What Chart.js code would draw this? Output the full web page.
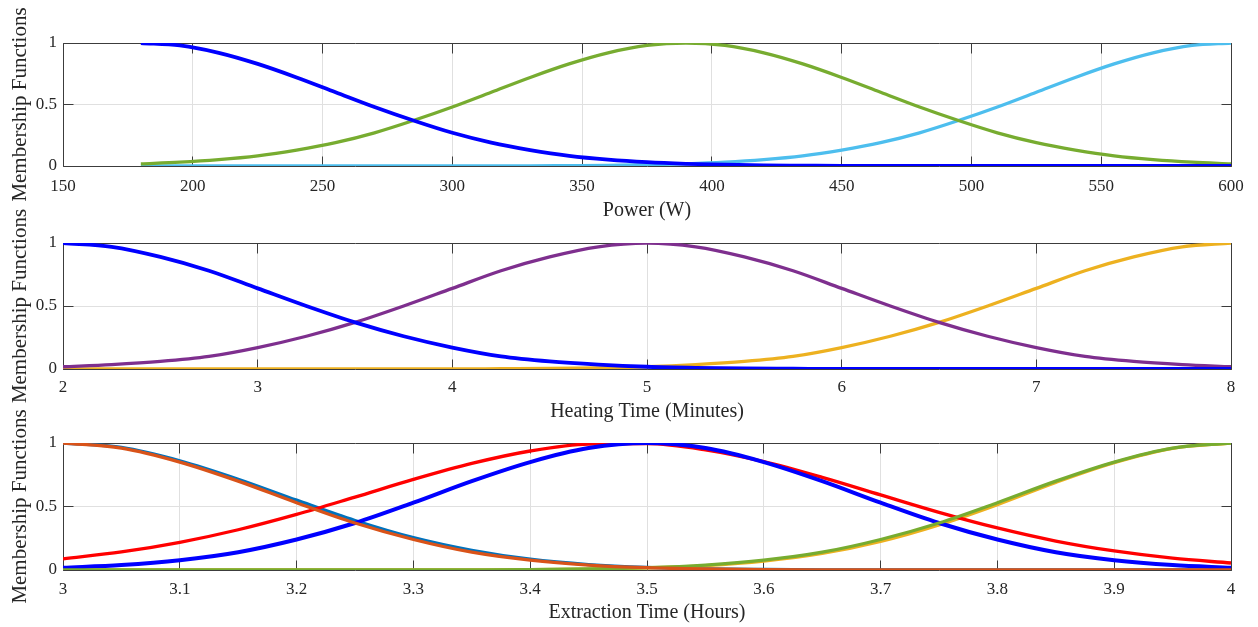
<!DOCTYPE html>
<html><head><meta charset="utf-8">
<script src="https://cdn.jsdelivr.net/npm/chart.js@4.4.1/dist/chart.umd.min.js"></script>
<style>
html,body{margin:0;padding:0;background:#fff;width:1258px;height:627px;overflow:hidden}
canvas{position:absolute;left:0;top:0}
</style></head><body>
<canvas id="c1" width="1258" height="627"></canvas>
<canvas id="c2" width="1258" height="627"></canvas>
<canvas id="c3" width="1258" height="627"></canvas>
<script>
// ---------- Panel 1: Power (W) ----------
const powerX = [180,195,210,225,240,255,270,285,300,315,330,345,360,375,390,405,420,435,450,465,480,495,510,525,540,555,570,585,600];
const powerLow  = [1.00,0.98,0.92,0.83,0.72,0.60,0.48,0.37,0.27,0.19,0.13,0.083,0.052,0.031,0.018,0.010,0.005,0.003,0.001,0,0,0,0,0,0,0,0,0,0];
const powerMid  = [0.018,0.031,0.052,0.083,0.13,0.19,0.27,0.37,0.48,0.60,0.72,0.83,0.92,0.98,1.00,0.98,0.92,0.83,0.72,0.60,0.48,0.37,0.27,0.19,0.13,0.083,0.052,0.031,0.018];
const powerHigh = [0,0,0,0,0,0,0,0,0,0,0.001,0.003,0.005,0.010,0.018,0.031,0.052,0.083,0.13,0.19,0.27,0.37,0.48,0.60,0.72,0.83,0.92,0.98,1.00];
const powerTicks = [150,200,250,300,350,400,450,500,550,600];
const powerTickLabels = ['150','200','250','300','350','400','450','500','550','600'];

// ---------- Panel 2: Heating Time (Minutes) ----------
const heatX = [2,2.25,2.5,2.75,3,3.25,3.5,3.75,4,4.25,4.5,4.75,5,5.25,5.5,5.75,6,6.25,6.5,6.75,7,7.25,7.5,7.75,8];
const heatLow  = [1.00,0.97,0.89,0.78,0.64,0.50,0.37,0.26,0.17,0.10,0.06,0.035,0.018,0.009,0.004,0.002,0,0,0,0,0,0,0,0,0];
const heatMid  = [0.018,0.035,0.06,0.10,0.17,0.26,0.37,0.50,0.64,0.78,0.89,0.97,1.00,0.97,0.89,0.78,0.64,0.50,0.37,0.26,0.17,0.10,0.06,0.035,0.018];
const heatHigh = [0,0,0,0,0,0,0,0,0,0.002,0.004,0.009,0.018,0.035,0.06,0.10,0.17,0.26,0.37,0.50,0.64,0.78,0.89,0.97,1.00];
const heatTicks = [2,3,4,5,6,7,8];
const heatTickLabels = ['2','3','4','5','6','7','8'];

// ---------- Panel 3: Extraction Time (Hours) ----------
const extrX = [3,3.05,3.1,3.15,3.2,3.25,3.3,3.35,3.4,3.45,3.5,3.55,3.6,3.65,3.7,3.75,3.8,3.85,3.9,3.95,4];
const extrLowA  = [1.00,0.965,0.86,0.715,0.55,0.39,0.255,0.155,0.085,0.043,0.02,0.009,0.004,0.001,0,0,0,0,0,0,0];
const extrLowB  = [1.00,0.96,0.85,0.70,0.53,0.37,0.24,0.14,0.077,0.039,0.018,0.008,0.003,0.001,0,0,0,0,0,0,0];
const extrMidA  = [0.087,0.142,0.218,0.317,0.438,0.574,0.713,0.839,0.937,0.992,0.995,0.946,0.853,0.729,0.591,0.454,0.331,0.228,0.150,0.093,0.055];
const extrMidB  = [0.018,0.039,0.077,0.14,0.24,0.37,0.53,0.70,0.85,0.96,1.00,0.96,0.85,0.70,0.53,0.37,0.24,0.14,0.077,0.039,0.018];
const extrHighA = [0,0,0,0,0,0,0,0.001,0.002,0.007,0.016,0.035,0.07,0.13,0.225,0.355,0.515,0.69,0.845,0.958,1.00];
const extrHighB = [0,0,0,0,0,0,0,0.001,0.003,0.008,0.018,0.039,0.077,0.14,0.24,0.37,0.53,0.70,0.85,0.96,1.00];
const extrTicks = [3,3.1,3.2,3.3,3.4,3.5,3.6,3.7,3.8,3.9,4];
const extrTickLabels = ['3','3.1','3.2','3.3','3.4','3.5','3.6','3.7','3.8','3.9','4'];

const yTicks = [0,0.5,1];
const yTickLabels = ['0','0.5','1'];
const yTitle = 'Membership Functions';

// ---------- styling / chart building ----------
const TEXT = '#262626';
const FONT = 'Liberation Serif';
const PAGE_H = 627;

const boxPlugin = {
  id: 'matlabBox',
  beforeDatasetsDraw(chart) {
    const {ctx, chartArea: a, scales: {x, y}} = chart;
    const al = v => Math.round(v - 0.5) + 0.5;
    const L = al(a.left), R = al(a.right), T = al(a.top), B = al(a.bottom);
    ctx.save();
    ctx.strokeStyle = '#3c3c3c';
    ctx.lineWidth = 1;
    ctx.beginPath();
    ctx.rect(L, T, R - L, B - T);
    const tl = 10;
    x.ticks.forEach(t => {
      const px = al(x.getPixelForValue(t.value));
      ctx.moveTo(px, B); ctx.lineTo(px, B - tl);
      ctx.moveTo(px, T); ctx.lineTo(px, T + tl);
    });
    y.ticks.forEach(t => {
      const py = al(y.getPixelForValue(t.value));
      ctx.moveTo(L, py); ctx.lineTo(L + tl, py);
      ctx.moveTo(R, py); ctx.lineTo(R - tl, py);
    });
    ctx.stroke();
    ctx.restore();
  }
};

function makePanel(id, xs, series, xTicks, xLabels, xMin, xMax, xTitle, g) {
  const scaleBottom = g.titleY + 12;
  const xHeight = scaleBottom - g.plotBottom;
  new Chart(document.getElementById(id), {
    type: 'line',
    data: {
      datasets: series.map(s => ({
        data: xs.map((x, i) => ({x: x, y: s.values[i]})),
        borderColor: s.color,
        borderWidth: s.width || 3.3,
        pointRadius: 0,
        fill: false,
        cubicInterpolationMode: 'monotone'
      }))
    },
    options: {
      responsive: false,
      animation: false,
      devicePixelRatio: 1,
      layout: {padding: {top: g.plotTop, right: 27, left: 0, bottom: PAGE_H - scaleBottom}},
      plugins: {legend: {display: false}, tooltip: {enabled: false}},
      scales: {
        x: {
          type: 'linear', min: xMin, max: xMax,
          afterBuildTicks: s => { s.ticks = xTicks.map(v => ({value: v})); },
          afterFit: s => { s.height = xHeight; },
          ticks: {
            autoSkip: false, maxRotation: 0, padding: g.tickPad,
            color: TEXT, font: {family: FONT, size: 17},
            callback: (v, i) => xLabels[i]
          },
          grid: {color: '#e0e0e0', lineWidth: 1, drawTicks: false},
          border: {display: false},
          title: {display: true, text: xTitle, color: TEXT,
                  font: {family: FONT, size: 20}, padding: {top: 0, bottom: 0}}
        },
        y: {
          type: 'linear', min: 0, max: 1,
          afterBuildTicks: s => { s.ticks = yTicks.map(v => ({value: v})); },
          afterFit: s => { s.width = 63; },
          ticks: {
            padding: 6, color: TEXT, font: {family: FONT, size: 17},
            callback: (v, i) => yTickLabels[i]
          },
          grid: {color: '#e0e0e0', lineWidth: 1, drawTicks: false},
          border: {display: false},
          title: {display: true, text: yTitle, color: TEXT,
                  font: {family: FONT, size: 21}, padding: {top: 7.5, bottom: 0}}
        }
      }
    },
    plugins: [boxPlugin]
  });
}

// dataset 0 is drawn on top
makePanel('c1', powerX, [
  {values: powerLow, color: '#0000ff', width: 3.8},
  {values: powerMid, color: '#77ac30'},
  {values: powerHigh, color: '#4dbeee'}
], powerTicks, powerTickLabels, 150, 600, 'Power (W)',
  {plotTop: 43, plotBottom: 166, titleY: 210.5, tickPad: 10.5});

makePanel('c2', heatX, [
  {values: heatLow, color: '#0000ff', width: 3.8},
  {values: heatMid, color: '#7e2f8e'},
  {values: heatHigh, color: '#edb120'}
], heatTicks, heatTickLabels, 2, 8, 'Heating Time (Minutes)',
  {plotTop: 243, plotBottom: 369, titleY: 411.5, tickPad: 8.5});

makePanel('c3', extrX, [
  {values: extrLowB, color: '#d95319'},
  {values: extrHighB, color: '#77ac30'},
  {values: extrMidB, color: '#0000ff', width: 4},
  {values: extrMidA, color: '#ff0000'},
  {values: extrHighA, color: '#edb120'},
  {values: extrLowA, color: '#0072bd'}
], extrTicks, extrTickLabels, 3, 4, 'Extraction Time (Hours)',
  {plotTop: 443, plotBottom: 570, titleY: 613, tickPad: 9.4});
</script>
</body></html>
